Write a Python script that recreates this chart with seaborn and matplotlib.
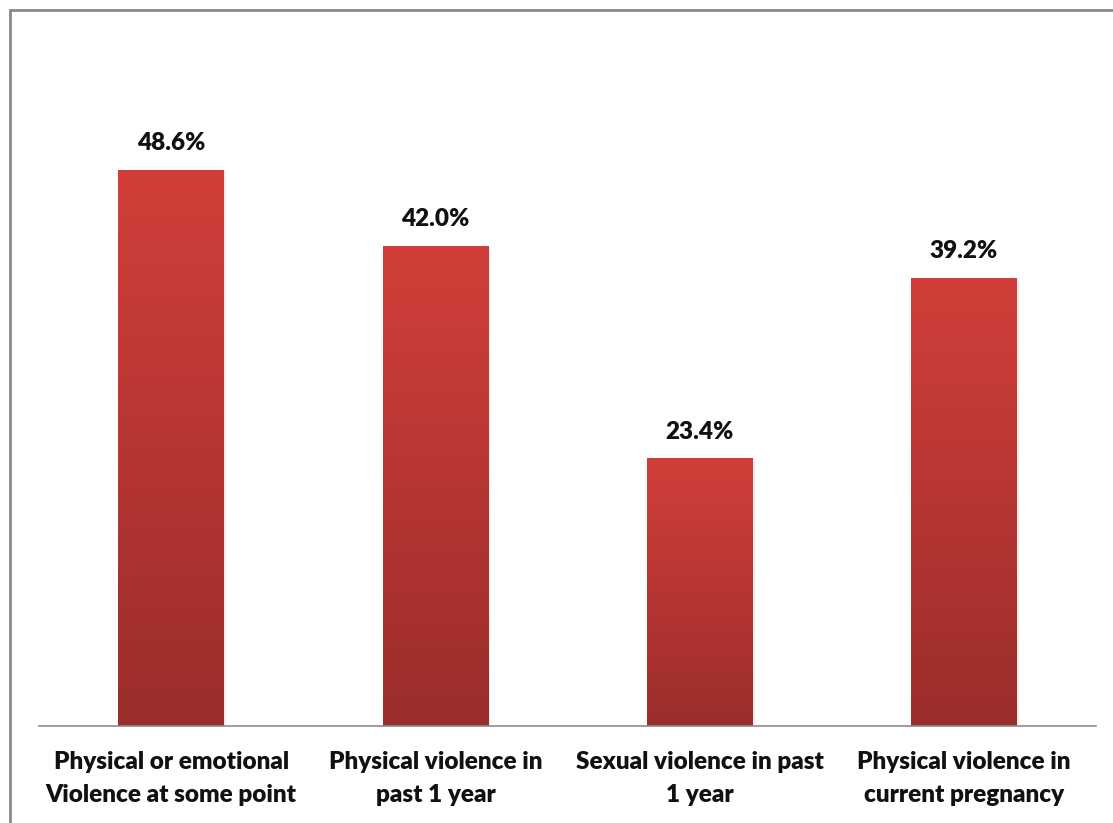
import numpy as np
import matplotlib
matplotlib.use("Agg")
import matplotlib.pyplot as plt
import seaborn as sns
from matplotlib.colors import LinearSegmentedColormap
from matplotlib.lines import Line2D

categories = ["Physical or emotional\nViolence at some point",
              "Physical violence in\npast 1 year",
              "Sexual violence in past\n1 year",
              "Physical violence in\ncurrent pregnancy"]
values = [48.6, 42.0, 23.4, 39.2]
value_labels = ["48.6%", "42.0%", "23.4%", "39.2%"]

sns.set_theme(style="white")
plt.rcParams['font.family'] = ['Lato', 'DejaVu Sans']

W, H = 1113, 823
fig = plt.figure(figsize=(W / 100, H / 100), dpi=100)
ax = fig.add_axes([39 / W, (H - 726) / H, (1096 - 39) / W, (726 - 40) / H])

sns.barplot(x=list(range(len(values))), y=values, ax=ax, width=0.4,
            color="#c43a36", edgecolor="none", saturation=1)

cmap = LinearSegmentedColormap.from_list("g", ["#9b2d2b", "#d23f3a"])
grad = np.linspace(0, 1, 256).reshape(-1, 1)
for p in list(ax.patches):
    x0, y0 = p.get_x(), p.get_y()
    w, h = p.get_width(), p.get_height()
    ax.bar(x0 + w / 2 + 0.008, h, width=w, bottom=0, color="#000000", alpha=0.07,
           zorder=1, edgecolor="none")
    im = ax.imshow(grad, extent=[x0, x0 + w, y0, y0 + h], origin="lower",
                   cmap=cmap, aspect="auto", zorder=2)
    im.set_clip_path(p)
    p.set_zorder(2)

for i, (v, lab) in enumerate(zip(values, value_labels)):
    ax.text(i, v + 2.35, lab, ha="center", va="center", fontsize=17.5,
            fontweight="heavy", color="#111111")

ax.set_xlim(-0.5, 3.5)
ax.set_ylim(0, 60)
ax.set_xticks(range(len(categories)))
ax.set_xticklabels(categories, fontsize=17.5, fontweight="heavy", color="#111111",
                   linespacing=1.6)
ax.tick_params(axis="x", length=0, pad=18)
ax.set_yticks([])
ax.set_xlabel("")
ax.set_ylabel("")
for s in ["top", "right", "left"]:
    ax.spines[s].set_visible(False)
ax.spines["bottom"].set_color("#8c8c8c")
ax.spines["bottom"].set_linewidth(1.2)

fig.add_artist(Line2D([9.5 / W, 9.5 / W], [0, 1 - 10 / H], transform=fig.transFigure,
                      color="#8a8a8a", lw=2))
fig.add_artist(Line2D([9.5 / W, 1], [1 - 10 / H, 1 - 10 / H], transform=fig.transFigure,
                      color="#8a8a8a", lw=2))

fig.savefig("out.png", dpi=100, facecolor="white")
